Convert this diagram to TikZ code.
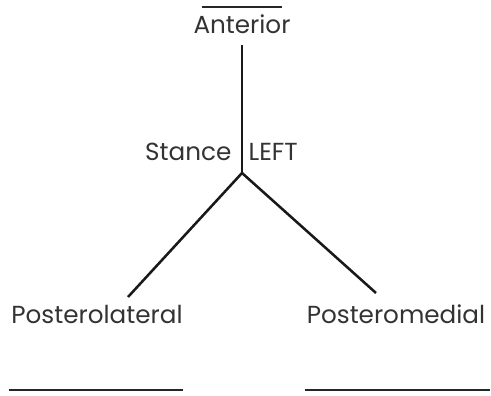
\documentclass[tikz,border=0pt]{standalone}
\usepackage{fontspec}
\setmainfont{Poppins}

\begin{document}
\begin{tikzpicture}[x=0.75pt, y=-0.75pt,
	label/.style={font=\fontsize{18.5}{20}\selectfont, text=black!80, inner sep=1pt},
	stem/.style={line width=1.9pt, black!90},
	blank/.style={line width=1pt, black!85}]
	\useasboundingbox (0,0) rectangle (491,395);

	\node[label] (anterior) at (242,24) {Anterior};
	\node[label, anchor=east] (stance) at (233,152) {Stance};
	\node[label, anchor=west] (left) at (247,152) {LEFT};
	\node[label] (lateral) at (97,314) {Posterolateral};
	\node[label] (medial) at (396,314) {Posteromedial};

	\coordinate (hub) at (242,173);
	\coordinate (latend) at (128,297);
	\coordinate (medend) at (376,293);

	\draw[stem] (anterior.south |- 0,45) -- (hub);
	\draw[stem] (hub) -- (latend);
	\draw[stem] (hub) -- (medend);

	% blanks to fill in
	\draw[blank] (202,7) -- (282,7);
	\draw[blank] (9,390) -- (183,390);
	\draw[blank] (305,390) -- (490,390);
\end{tikzpicture}
\end{document}
